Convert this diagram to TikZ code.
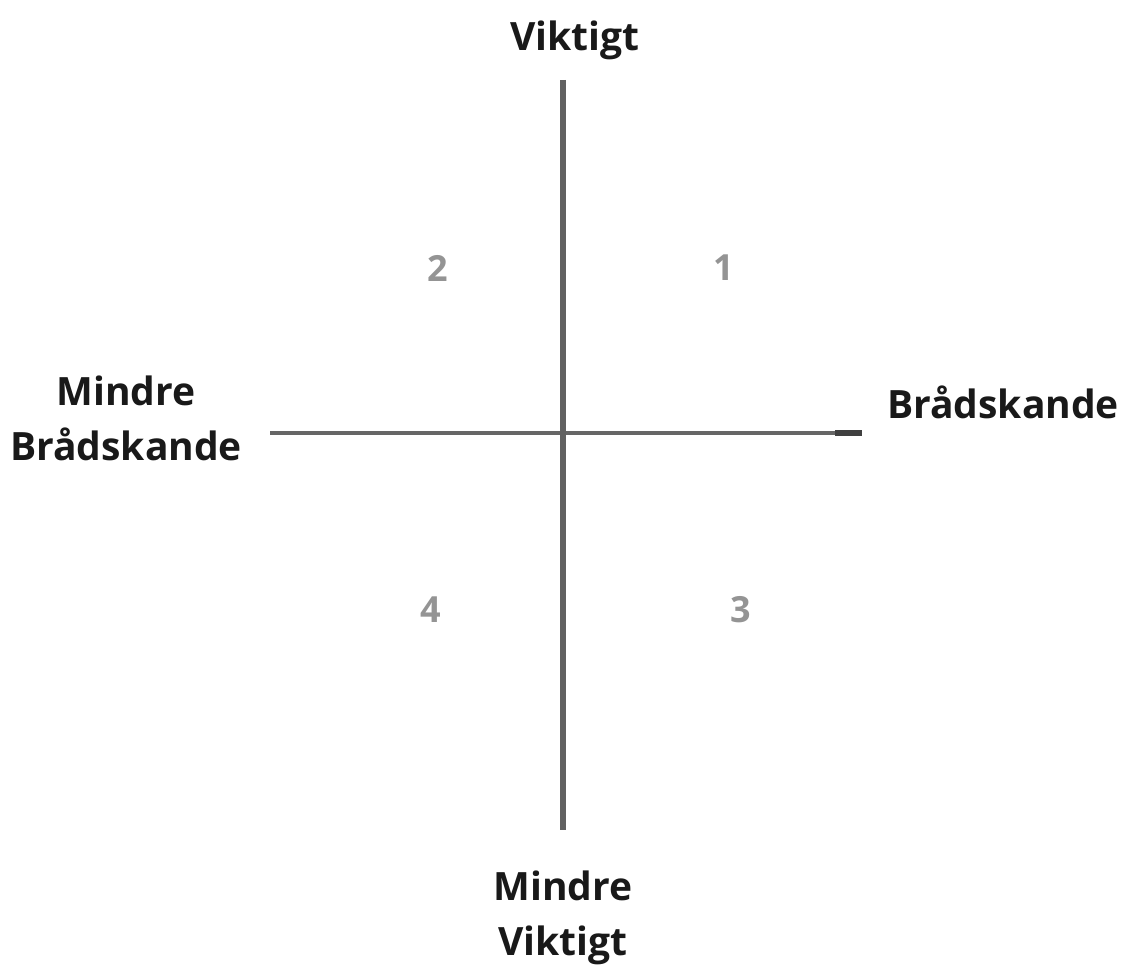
\documentclass[tikz,border=0pt]{standalone}
\usepackage{fontspec}
\setmainfont{Open Sans}
\usepackage{tikz}
\usetikzlibrary{positioning, calc}

\begin{document}
\begin{tikzpicture}[x=1pt, y=-1pt]
	
	% 定义样式
	\tikzset{
		axis/.style = {line width=#1, draw=black!60},
		axis/.default = 4,
		label/.style = {
			font=\fontsize{39}{55}\selectfont\bfseries,
			text=black!90, align=center, inner sep=0pt
		},
		number/.style = {
			font=\fontsize{36}{44}\selectfont\bfseries,
			text=black!42, inner sep=0pt
		}
	}
	
	% 画布
	\useasboundingbox (0,0) rectangle (1130,974);
	
	% 坐标轴端点
	\coordinate (top) at (563,80);
	\coordinate (bottom) at (563,830);
	\coordinate (left) at (270,433);
	\coordinate (right) at (862,433);
	\coordinate (tick) at (835,433);
	
	% 坐标轴
	\draw[axis] (left) -- (right);
	\draw[axis=6, draw=black!62] (top) -- (bottom);
	\draw[axis=6, draw=black!75] (tick) -- (right);
	
	% 标签
	\node[label] (viktigt) at (575,40) {Viktigt};
	\node[label] (mindreviktigt) at (563,918) {Mindre\\Viktigt};
	\node[label] (mindrebrad) at (126,418) {Mindre\\Brådskande};
	\node[label] (brad) at (1003,402) {Brådskande};
	
	% 象限编号
	\node[number] (q1) at (724,268) {1};
	\node[number] (q2) at (438,268) {2};
	\node[number] (q3) at (741,610) {3};
	\node[number] (q4) at (431,610) {4};
	
\end{tikzpicture}
\end{document}
